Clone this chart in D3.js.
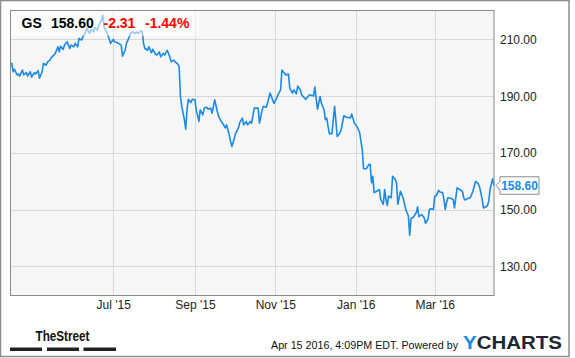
<!DOCTYPE html>
<html><head><meta charset="utf-8">
<script src="https://cdn.jsdelivr.net/npm/d3@7"></script>
<style>
html,body{margin:0;padding:0;background:#fff;}
svg{display:block;font-family:"Liberation Sans",Arial,sans-serif;}
</style></head>
<body>
<svg id="chart" width="575" height="358"></svg>
<script>
const dates = [
"2015-04-14","2015-04-15","2015-04-16","2015-04-17","2015-04-19","2015-04-20","2015-04-21","2015-04-23","2015-04-24","2015-04-26","2015-04-27","2015-04-29","2015-04-30",
"2015-05-02","2015-05-03","2015-05-05","2015-05-06","2015-05-08","2015-05-09","2015-05-11","2015-05-12","2015-05-14","2015-05-15","2015-05-17","2015-05-18","2015-05-20","2015-05-21","2015-05-22","2015-05-24","2015-05-25","2015-05-27","2015-05-29","2015-05-30",
"2015-06-01","2015-06-02","2015-06-04","2015-06-05","2015-06-07","2015-06-08","2015-06-10","2015-06-11","2015-06-13","2015-06-14","2015-06-16","2015-06-17","2015-06-19","2015-06-20","2015-06-22","2015-06-23","2015-06-24","2015-06-26","2015-06-27","2015-06-29",
"2015-07-01","2015-07-02","2015-07-04","2015-07-05","2015-07-07","2015-07-08","2015-07-10","2015-07-11","2015-07-13","2015-07-14","2015-07-16","2015-07-17","2015-07-19","2015-07-20","2015-07-22","2015-07-23","2015-07-24","2015-07-25","2015-07-27","2015-07-28","2015-07-30","2015-07-31",
"2015-08-02","2015-08-03","2015-08-05","2015-08-06","2015-08-08","2015-08-09","2015-08-11","2015-08-13","2015-08-14","2015-08-16","2015-08-17","2015-08-19","2015-08-20","2015-08-21","2015-08-22","2015-08-24","2015-08-25","2015-08-26","2015-08-27","2015-08-29","2015-08-30",
"2015-09-01","2015-09-02","2015-09-04","2015-09-05","2015-09-07","2015-09-08","2015-09-10","2015-09-11","2015-09-13","2015-09-14","2015-09-16","2015-09-18","2015-09-19","2015-09-21","2015-09-22","2015-09-24","2015-09-25","2015-09-27","2015-09-28","2015-09-29",
"2015-10-01","2015-10-02","2015-10-04","2015-10-05","2015-10-07","2015-10-08","2015-10-10","2015-10-11","2015-10-13","2015-10-14","2015-10-16","2015-10-17","2015-10-19","2015-10-20","2015-10-22","2015-10-23","2015-10-25","2015-10-26","2015-10-28","2015-10-30","2015-10-31",
"2015-11-02","2015-11-03","2015-11-05","2015-11-06","2015-11-08","2015-11-09","2015-11-11","2015-11-12","2015-11-14","2015-11-15","2015-11-17","2015-11-18","2015-11-20","2015-11-21","2015-11-24","2015-11-27","2015-11-30",
"2015-12-01","2015-12-03","2015-12-05","2015-12-06","2015-12-08","2015-12-09","2015-12-10","2015-12-12","2015-12-14","2015-12-16","2015-12-18","2015-12-20","2015-12-21","2015-12-23","2015-12-25","2015-12-28","2015-12-29","2015-12-31",
"2016-01-02","2016-01-04","2016-01-06","2016-01-07","2016-01-09","2016-01-11","2016-01-12","2016-01-13","2016-01-14","2016-01-15","2016-01-17","2016-01-19","2016-01-20","2016-01-22","2016-01-23","2016-01-24","2016-01-25","2016-01-26","2016-01-28","2016-01-29","2016-01-31",
"2016-02-01","2016-02-02","2016-02-04","2016-02-06","2016-02-08","2016-02-09","2016-02-10","2016-02-11","2016-02-12","2016-02-14","2016-02-16","2016-02-17","2016-02-18","2016-02-20","2016-02-22","2016-02-23","2016-02-25","2016-02-26","2016-02-27","2016-02-29",
"2016-03-01","2016-03-02","2016-03-04","2016-03-05","2016-03-07","2016-03-08","2016-03-09","2016-03-10","2016-03-11","2016-03-13","2016-03-15","2016-03-16","2016-03-18","2016-03-20","2016-03-22","2016-03-23","2016-03-24","2016-03-26","2016-03-28","2016-03-30",
"2016-04-01","2016-04-03","2016-04-04","2016-04-05","2016-04-06","2016-04-07","2016-04-09","2016-04-10","2016-04-11","2016-04-12","2016-04-14","2016-04-15"];

const prices = [
201.2,201.6,198.6,199.5,197.5,197.8,197.1,199.2,197.5,198.3,197.1,198.6,196.7,
198.3,197.8,199.0,196.3,198.6,201.6,200.9,202.0,202.7,203.7,204.5,205.1,207.4,205.6,207.6,206.5,208.0,209.2,206.8,208.0,
207.4,208.6,207.4,210.4,209.8,210.9,212.6,213.9,212.1,213.5,212.7,214.2,213.3,215.0,216.8,218.5,214.4,212.7,211.5,208.6,
210.0,209.2,208.8,208.6,208.0,204.1,206.2,208.6,210.7,212.1,212.7,212.1,212.6,212.1,213.0,212.7,208.6,206.8,206.2,207.4,205.3,206.5,
204.8,204.5,205.6,203.9,205.1,204.5,206.2,203.7,202.1,202.7,202.1,201.3,200.4,189.9,186.4,181.7,178.4,185.2,188.9,187.8,188.9,
188.7,185.2,181.1,185.2,183.4,185.8,186.1,185.4,185.8,184.0,188.7,184.6,182.8,181.1,180.5,178.8,179.9,176.4,174.1,172.3,
175.3,177.0,178.8,180.7,182.3,179.9,181.1,179.9,181.1,180.5,185.8,185.8,185.8,180.5,185.2,186.4,186.1,187.3,191.1,188.7,187.5,
189.3,190.5,192.2,199.2,198.1,197.5,197.8,192.8,191.1,192.2,190.8,193.6,192.2,190.5,188.9,190.5,190.1,
193.2,185.4,189.9,187.5,185.2,181.7,182.3,176.8,176.8,186.4,175.8,177.0,178.2,183.1,182.6,182.3,183.7,180.5,
179.3,177.2,171.2,164.4,164.4,165.9,166.0,159.5,161.8,156.0,156.5,157.1,153.6,151.9,157.1,153.6,151.5,154.8,154.2,161.8,160.6,
159.5,151.9,156.5,154.2,150.1,148.9,147.8,141.0,146.8,147.5,148.9,151.0,147.5,148.3,147.2,145.2,146.8,150.1,150.3,150.1,
154.8,154.8,156.8,156.2,156.0,153.6,150.1,152.5,154.2,154.0,153.6,150.6,157.7,157.1,156.5,154.2,153.4,153.9,154.2,156.5,
160.0,159.2,158.1,156.0,153.6,150.6,151.1,151.5,153.0,157.1,160.9,158.6];

const yTicks = [130, 150, 170, 190, 210];
const xTickDates = ["2015-07-01","2015-09-01","2015-11-01","2016-01-01","2016-03-01"];
const xTickLabels = ["Jul '15","Sep '15","Nov '15","Jan '16","Mar '16"];
const ticker = "GS";
const lastPrice = "158.60";
const change = "-2.31";
const changePct = "-1.44%";
const timestamp = "Apr 15 2016, 4:09PM EDT. Powered by";

const parse = d3.timeParse("%Y-%m-%d");
const data = dates.map((d, i) => ({date: parse(d), value: prices[i]}));

const svg = d3.select("#chart");
const L = 10.5, R = 494, T = 10.5, B = 295.5;

const x = d3.scaleTime().domain([parse("2015-04-14"), parse("2016-04-15")]).range([L, R]);
const y = d3.scaleLinear().domain([119.75, 220.2]).range([B, T]);

// outer frame
svg.append("rect").attr("x", 0.5).attr("y", 0.5).attr("width", 568.5).attr("height", 356)
  .attr("fill", "#fff").attr("stroke", "#8c8c8c").attr("stroke-width", 1.5);

// plot background
svg.append("rect").attr("x", L).attr("y", T).attr("width", R - L).attr("height", B - T)
  .attr("fill", "#f6f6f6");

// gridlines
const grid = svg.append("g");
grid.selectAll("line.h").data(yTicks).join("line")
  .attr("x1", L).attr("x2", R).attr("y1", d => Math.round(y(d)) + 0.5).attr("y2", d => Math.round(y(d)) + 0.5)
  .attr("stroke", "#d8d8d8").attr("stroke-width", 1);
grid.selectAll("line.v").data(xTickDates).join("line")
  .attr("y1", T).attr("y2", B).attr("x1", d => Math.round(x(parse(d))) + 0.5).attr("x2", d => Math.round(x(parse(d))) + 0.5)
  .attr("stroke", "#d8d8d8").attr("stroke-width", 1);

// line
const line = d3.line().x(d => x(d.date)).y(d => y(d.value));
svg.append("path").datum(data).attr("d", line)
  .attr("fill", "none").attr("stroke", "#1a8ae6").attr("stroke-width", 1.6)
  .attr("stroke-linejoin", "round");

// legend overlay box
svg.append("rect").attr("x", L).attr("y", T).attr("width", 189).attr("height", 25.5)
  .attr("fill", "#ffffff").attr("fill-opacity", 0.55);

// plot border
svg.append("rect").attr("x", L).attr("y", T).attr("width", R - L).attr("height", B - T)
  .attr("fill", "none").attr("stroke", "#8a8a8a").attr("stroke-width", 1);

// legend text
const lg = svg.append("text").attr("y", 28).attr("font-size", 14).attr("font-weight", "bold");
lg.append("tspan").attr("x", 21.5).attr("fill", "#000").text(ticker);
lg.append("tspan").attr("x", 51).attr("fill", "#000").text(lastPrice);
lg.append("tspan").attr("x", 103.5).attr("fill", "#f00").text(change);
lg.append("tspan").attr("x", 145).attr("fill", "#f00").text(changePct);

// y axis
const yAxis = svg.append("g").attr("transform", `translate(${R},0)`)
  .call(d3.axisRight(y).tickValues(yTicks).tickFormat(d3.format(".2f")).tickSize(0).tickPadding(6));
yAxis.select(".domain").remove();
yAxis.selectAll("text").attr("font-size", 12).attr("fill", "#222").attr("font-family", "Liberation Sans, Arial, sans-serif");

// x axis
const xAxis = svg.append("g").attr("transform", `translate(0,${B})`)
  .call(d3.axisBottom(x).tickValues(xTickDates.map(parse)).tickFormat((d, i) => xTickLabels[i]).tickSize(0).tickPadding(5));
xAxis.select(".domain").remove();
xAxis.selectAll("text").attr("font-size", 12).attr("fill", "#222").attr("font-family", "Liberation Sans, Arial, sans-serif");

// last price marker
const ly = y(prices[prices.length - 1]);
svg.append("path")
  .attr("d", `M${R + 6},${ly - 8.5} L${R + 45},${ly - 8.5} L${R + 45},${ly + 9} L${R + 6},${ly + 9} L${R + 6},${ly + 5} L${R + 2},${ly} L${R + 6},${ly - 4} Z`)
  .attr("fill", "#fff").attr("stroke", "#8a8a8a").attr("stroke-width", 1);
svg.append("text").attr("x", R + 25.5).attr("y", ly + 4.5).attr("text-anchor", "middle")
  .attr("font-size", 12).attr("font-weight", "bold").attr("fill", "#1a8ae6").text(lastPrice);

// footer: TheStreet logo
svg.append("text").attr("x", 35.5).attr("y", 341).attr("font-size", 15).attr("font-weight", "bold")
  .attr("fill", "#111").attr("textLength", 54).attr("lengthAdjust", "spacingAndGlyphs").text("TheStreet");
[[10, 42], [47, 79], [83.5, 116]].forEach(([a, b]) => {
  svg.append("rect").attr("x", a).attr("y", 347.5).attr("width", b - a).attr("height", 3.5).attr("fill", "#222");
});

// footer: timestamp + YCHARTS
svg.append("text").attr("x", 271).attr("y", 348.5).attr("font-size", 11).attr("fill", "#111")
  .attr("textLength", 187).attr("lengthAdjust", "spacingAndGlyphs").text(timestamp);
const yc = svg.append("text").attr("x", 463).attr("y", 348.5).attr("font-size", 19).attr("font-weight", "bold")
  .attr("textLength", 99).attr("lengthAdjust", "spacingAndGlyphs");
yc.append("tspan").attr("fill", "#1a8ae6").text("Y");
yc.append("tspan").attr("fill", "#1d2733").text("CHARTS");
</script>
</body></html>
